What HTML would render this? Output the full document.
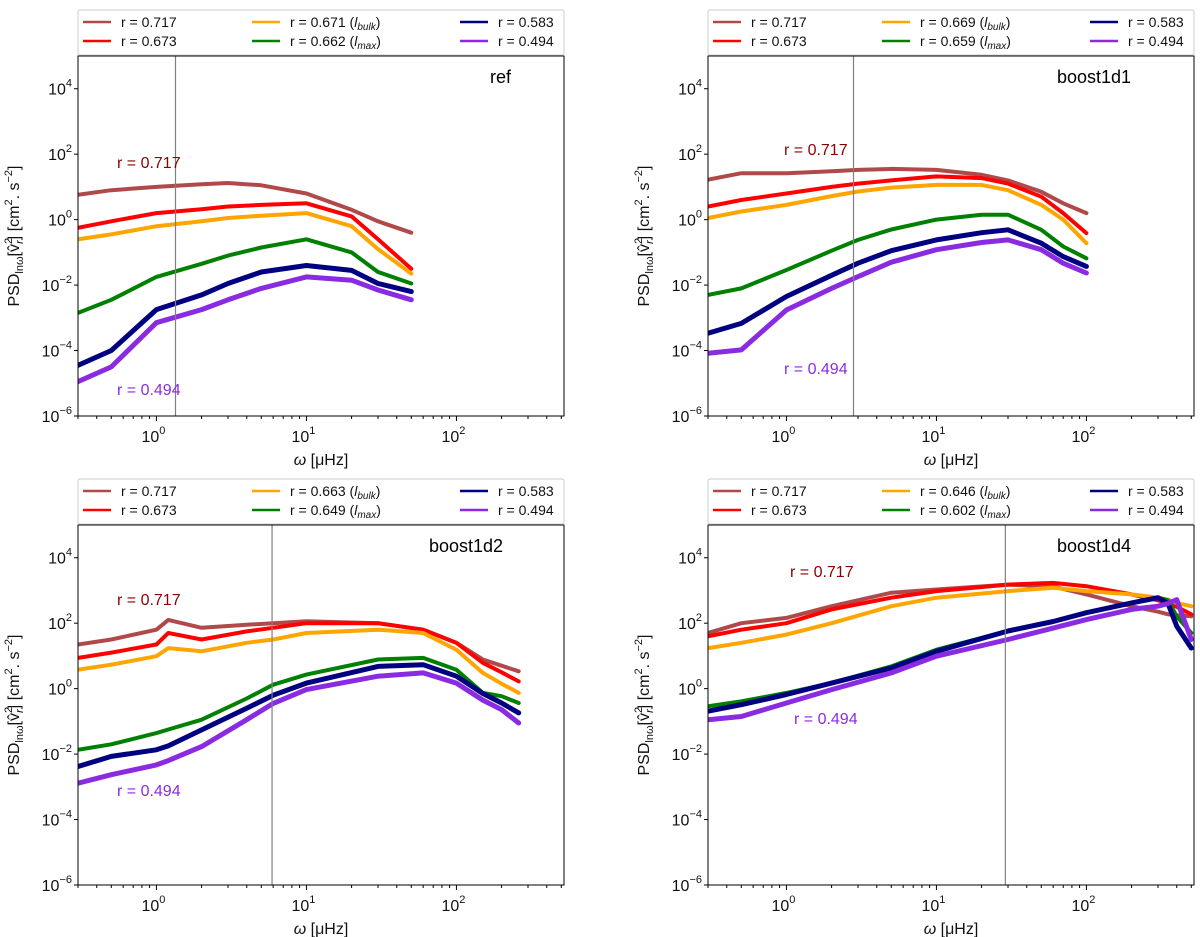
<!DOCTYPE html>
<html><head><meta charset="utf-8"><style>
html,body{margin:0;padding:0;background:#fff;}
svg{display:block;font-family:"Liberation Sans","DejaVu Sans",sans-serif;}
</style></head>
<body>
<svg id="fig" width="1200" height="937" viewBox="0 0 1200 937" xmlns="http://www.w3.org/2000/svg"></svg>
<script>
// ---- data (log10 of PSD values) ----
const seriesNames = ["r0717","r0673","rbulk","rmax","r0583","r0494"];
const seriesColors = ["#b04a4a","#ff0000","#ffa500","#008000","#000080","#8a2be2"];

const refOmega = [0.3,0.5,1,2,3,5,10,20,30,50];
const refR0717 = [0.76,0.9,1.0,1.08,1.12,1.05,0.8,0.3,-0.05,-0.4];
const refR0673 = [-0.25,-0.05,0.2,0.32,0.4,0.45,0.5,0.1,-0.6,-1.5];
const refBulk  = [-0.6,-0.45,-0.2,-0.05,0.05,0.12,0.2,-0.2,-0.9,-1.65];
const refMax   = [-2.85,-2.45,-1.75,-1.35,-1.1,-0.85,-0.6,-1.0,-1.6,-1.95];
const refR0583 = [-4.45,-4.0,-2.75,-2.3,-1.95,-1.6,-1.4,-1.55,-1.95,-2.2];
const refR0494 = [-4.95,-4.5,-3.15,-2.75,-2.45,-2.1,-1.75,-1.85,-2.15,-2.45];

const b1Omega = [0.3,0.5,1,2,3,5,10,20,30,50,70,100];
const b1R0717 = [1.22,1.42,1.42,1.48,1.52,1.55,1.52,1.37,1.2,0.85,0.5,0.2];
const b1R0673 = [0.4,0.6,0.8,1.0,1.1,1.2,1.32,1.27,1.1,0.7,0.2,-0.41];
const b1Bulk  = [0.05,0.25,0.45,0.72,0.86,0.98,1.06,1.06,0.9,0.45,0,-0.72];
const b1Max   = [-2.3,-2.1,-1.54,-0.95,-0.62,-0.3,0,0.15,0.15,-0.31,-0.82,-1.18];
const b1R0583 = [-3.47,-3.17,-2.35,-1.7,-1.33,-0.95,-0.62,-0.4,-0.31,-0.72,-1.13,-1.43];
const b1R0494 = [-4.08,-3.98,-2.76,-2.1,-1.74,-1.3,-0.92,-0.7,-0.62,-0.92,-1.33,-1.63];

const b2Omega = [0.3,0.5,1,1.2,2,4,6,10,30,60,100,150,200,260];
const b2R0717 = [1.35,1.5,1.8,2.1,1.86,1.95,2.0,2.06,2.0,1.8,1.4,0.89,0.7,0.53];
const b2R0673 = [0.94,1.1,1.35,1.7,1.5,1.75,1.86,2.0,2.0,1.8,1.4,0.79,0.5,0.22];
const b2Bulk  = [0.58,0.73,0.99,1.24,1.14,1.4,1.5,1.7,1.8,1.7,1.19,0.48,0.15,-0.13];
const b2Max   = [-1.87,-1.7,-1.36,-1.25,-0.95,-0.3,0.12,0.43,0.89,0.94,0.58,-0.13,-0.23,-0.44];
const b2R0583 = [-2.38,-2.07,-1.87,-1.75,-1.26,-0.6,-0.2,0.17,0.68,0.73,0.38,-0.15,-0.44,-0.74];
const b2R0494 = [-2.89,-2.63,-2.33,-2.2,-1.77,-0.95,-0.45,-0.03,0.38,0.48,0.17,-0.35,-0.64,-1.05];

const b4Omega = [0.3,0.5,1,2,5,10,30,60,100,200,300,350,400,500];
const b4R0717 = [1.7,2.0,2.16,2.52,2.93,3.03,3.18,3.12,2.88,2.52,2.35,2.27,2.24,2.21];
const b4R0673 = [1.6,1.8,2.0,2.42,2.78,2.98,3.18,3.23,3.13,2.88,2.7,2.62,2.5,2.27];
const b4Bulk  = [1.24,1.4,1.65,2.0,2.52,2.78,2.98,3.08,2.98,2.88,2.78,2.72,2.62,2.52];
const b4Max   = [-0.54,-0.39,-0.13,0.17,0.68,1.19,1.76,2.05,2.32,2.62,2.78,2.7,2.21,1.7];
const b4R0583 = [-0.69,-0.49,-0.18,0.17,0.63,1.14,1.76,2.05,2.32,2.62,2.78,2.6,1.91,1.24];
const b4R0494 = [-0.95,-0.85,-0.44,-0.03,0.48,0.99,1.5,1.85,2.11,2.42,2.52,2.6,2.72,1.5];

const yTickExps = [4,2,0,-2,-4,-6];
const xTickExps = [0,1,2];
const refLegend = ["r = 0.717","r = 0.673","r = 0.671","r = 0.662","r = 0.583","r = 0.494"];
const b1Legend  = ["r = 0.717","r = 0.673","r = 0.669","r = 0.659","r = 0.583","r = 0.494"];
const b2Legend  = ["r = 0.717","r = 0.673","r = 0.663","r = 0.649","r = 0.583","r = 0.494"];
const b4Legend  = ["r = 0.717","r = 0.673","r = 0.646","r = 0.602","r = 0.583","r = 0.494"];
const cutOmega = [1.34, 2.8, 5.9, 28.8];

const NS = "http://www.w3.org/2000/svg";
const fig = document.getElementById("fig");
function mk(tag, attrs, parent){
  const e = document.createElementNS(NS, tag);
  for (const k in attrs) e.setAttribute(k, attrs[k]);
  (parent||fig).appendChild(e);
  return e;
}
const W = 486, H = 360, XMIN = 0.3, PXDEC = 150, YMAX = 5, YMIN = -6;

function drawPanel(p){
  const L = p.left, T = p.top;
  const xs = w => L + (Math.log10(w) - Math.log10(XMIN)) * PXDEC;
  const ys = e => T + (YMAX - e) * H / (YMAX - YMIN);
  const g = mk("g", {});
  
  
  const clipId = "clip-" + p.name;
  const cp = mk("clipPath", {id: clipId}, g);
  mk("rect", {x: L, y: T, width: W, height: H}, cp);

  // legend box
  const lg = mk("g", {}, g);
  
  
  mk("rect", {x: L, y: T - 46, width: W, height: 45, fill: "#fff", stroke: "#cccccc", "stroke-width": 1, rx: 2}, lg);
  const colX = [5, 174, 382], rowY = [T - 34, T - 15];
  const order = [0,1,2,3,4,5];
  order.forEach((si, k) => {
    const c = Math.floor(k / 2), r = k % 2;
    const ent = mk("g", {}, lg);
    
    
    mk("line", {x1: L + colX[c], x2: L + colX[c] + 28, y1: rowY[r], y2: rowY[r], stroke: seriesColors[si], "stroke-width": 2.5}, ent);
    const t = mk("text", {x: L + colX[c] + 38, y: rowY[r] + 5, "font-size": 14, fill: "#111"}, ent);
    t.textContent = p.legend[si];
    if (si === 2 || si === 3) {
      const a = mk("tspan", {}, t); a.textContent = " (";
      const b = mk("tspan", {"font-style": "italic"}, t); b.textContent = "l";
      const s = mk("tspan", {"font-style": "italic", "font-size": 10, dy: 3}, t); s.textContent = si === 2 ? "bulk" : "max";
      const e = mk("tspan", {dy: -3}, t); e.textContent = ")";
    }
  });

  // series
  const sg = mk("g", {"clip-path": "url(#" + clipId + ")"}, g);
  p.series.forEach((vals, si) => {
    let d = "";
    vals.forEach((v, i) => { d += (i ? "L" : "M") + xs(p.omega[i]).toFixed(1) + "," + ys(v).toFixed(1); });
    const path = mk("path", {d: d, fill: "none", stroke: seriesColors[si], "stroke-width": si >= 4 ? 5 : 4, "stroke-linejoin": "round", "stroke-linecap": "round"}, sg);
    
    
  });

  // cutoff line
  const cx = xs(p.cut);
  const cl = mk("line", {x1: cx, x2: cx, y1: T, y2: T + H, stroke: "#808080", "stroke-width": 1.2}, g);
  
  

  // frame
  const fr = mk("rect", {x: L, y: T, width: W, height: H, fill: "none", stroke: "#000", "stroke-width": 1}, g);
  
  

  // y ticks
  yTickExps.forEach(e => {
    const y = ys(e);
    mk("line", {x1: L - 4, x2: L, y1: y, y2: y, stroke: "#000"}, g);
    const t = mk("text", {x: L - 6, y: y + 6, "font-size": 16, "text-anchor": "end", fill: "#111"}, g);
    
    
    const b = mk("tspan", {}, t); b.textContent = "10";
    const s = mk("tspan", {"font-size": 11, dy: -8}, t); s.textContent = e < 0 ? "\u2212" + (-e) : String(e);
  });
  // x ticks
  for (let dec = -1; dec <= 2; dec++) for (let m = 1; m <= 9; m++) {
    const w = m * Math.pow(10, dec);
    if (w < XMIN || xs(w) > L + W + 0.5) continue;
    const x = xs(w);
    mk("line", {x1: x, x2: x, y1: T + H, y2: T + H + (m === 1 ? 5 : 3), stroke: "#000"}, g);
  }
  xTickExps.forEach(e => {
    const x = xs(Math.pow(10, e));
    const t = mk("text", {x: x - 3, y: T + H + 26, "font-size": 16, "text-anchor": "middle", fill: "#111"}, g);
    
    
    const b = mk("tspan", {}, t); b.textContent = "10";
    const s = mk("tspan", {"font-size": 11, dy: -8}, t); s.textContent = String(e);
  });
  // x label
  const xl = mk("text", {x: L + 243, y: T + H + 49, "font-size": 16, "text-anchor": "middle", fill: "#111"}, g);
  
  
  const xa = mk("tspan", {"font-style": "italic"}, xl); xa.textContent = "\u03c9";
  const xb = mk("tspan", {}, xl); xb.textContent = " [\u03bcHz]";
  // y label
  const yl = mk("text", {transform: "translate(" + (L - 59) + "," + (T + H / 2) + ") rotate(-90)", "font-size": 16, "text-anchor": "middle", fill: "#111"}, g);
  
  
  const y1 = mk("tspan", {}, yl); y1.textContent = "PSD";
  const y2 = mk("tspan", {"font-size": 11, dy: 4}, yl); y2.textContent = "ln\u03c9";
  const y3 = mk("tspan", {dy: -4}, yl); y3.textContent = "[v\u0302";
  const y4 = mk("tspan", {"font-size": 11, dy: -7}, yl); y4.textContent = "2";
  const y4b = mk("tspan", {"font-size": 11, dx: -6, dy: 11, "font-style": "italic"}, yl); y4b.textContent = "r";
  const y5 = mk("tspan", {dy: -4}, yl); y5.textContent = "] [cm";
  const y6 = mk("tspan", {"font-size": 11, dy: -7}, yl); y6.textContent = "2";
  const y7 = mk("tspan", {dy: 7}, yl); y7.textContent = ". s";
  const y8 = mk("tspan", {"font-size": 11, dy: -7}, yl); y8.textContent = "\u22122";
  const y9 = mk("tspan", {dy: 7}, yl); y9.textContent = "]";

  // title
  const tt = mk("text", {x: p.titleX, y: T + 27, "font-size": 18, fill: "#000"}, g);
  
  
  tt.textContent = p.title;
  // annotations
  const a1 = mk("text", {x: p.ann1[0], y: p.ann1[1], "font-size": 16, fill: "#8b0000"}, g);
  
  
  a1.textContent = "r = 0.717";
  const a2 = mk("text", {x: p.ann2[0], y: p.ann2[1], "font-size": 16, fill: "#8a2be2"}, g);
  
  
  a2.textContent = "r = 0.494";
}

drawPanel({name: "ref", left: 78, top: 56, omega: refOmega, series: [refR0717, refR0673, refBulk, refMax, refR0583, refR0494], legend: refLegend, cut: cutOmega[0], title: "ref", titleX: 490, ann1: [117, 168], ann2: [117, 395]});
drawPanel({name: "boost1d1", left: 708, top: 56, omega: b1Omega, series: [b1R0717, b1R0673, b1Bulk, b1Max, b1R0583, b1R0494], legend: b1Legend, cut: cutOmega[1], title: "boost1d1", titleX: 1057, ann1: [784, 155], ann2: [784, 374]});
drawPanel({name: "boost1d2", left: 78, top: 525, omega: b2Omega, series: [b2R0717, b2R0673, b2Bulk, b2Max, b2R0583, b2R0494], legend: b2Legend, cut: cutOmega[2], title: "boost1d2", titleX: 429, ann1: [117, 605], ann2: [117, 796]});
drawPanel({name: "boost1d4", left: 708, top: 525, omega: b4Omega, series: [b4R0717, b4R0673, b4Bulk, b4Max, b4R0583, b4R0494], legend: b4Legend, cut: cutOmega[3], title: "boost1d4", titleX: 1057, ann1: [790, 577], ann2: [794, 724]});
</script>
</body></html>
